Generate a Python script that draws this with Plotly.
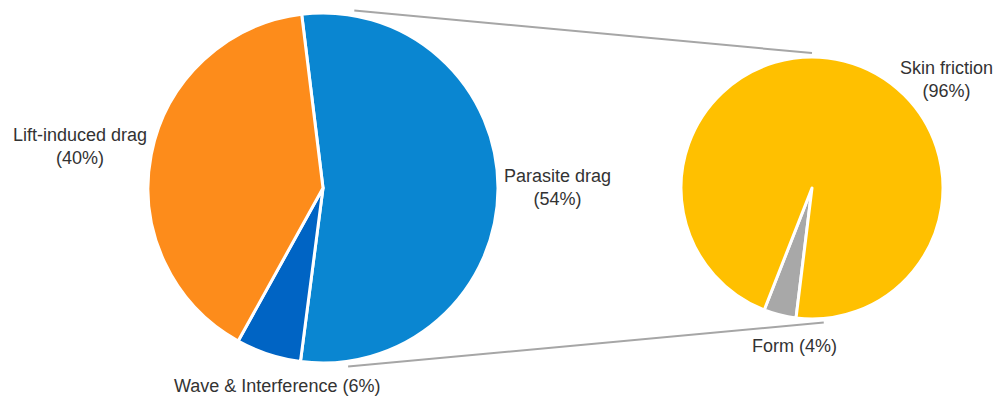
import math
import plotly.graph_objects as go

# ---- data ----
main_labels = ["Parasite drag", "Wave & Interference", "Lift-induced drag"]
main_values = [54, 6, 40]
main_colors = ["#0A86D1", "#0064C4", "#FD8C1B"]

sub_labels = ["Form", "Skin friction"]
sub_values = [4, 96]
sub_colors = ["#A8A8A8", "#FFC000"]

W, H = 996, 396

# pie geometry (pixels)
L_CX, L_CY, L_R = 323, 188, 175
R_CX, R_CY, R_R = 812, 188, 131


def dom(cx, cy, r):
    return dict(x=[(cx - r) / W, (cx + r) / W],
                y=[1 - (cy + r) / H, 1 - (cy - r) / H])


fig = go.Figure()
fig.add_trace(go.Pie(
    labels=main_labels, values=main_values, sort=False, direction="clockwise",
    rotation=-7, marker=dict(colors=main_colors, line=dict(color="white", width=3)),
    textinfo="none", hoverinfo="label+percent", domain=dom(L_CX, L_CY, L_R),
    showlegend=False))
fig.add_trace(go.Pie(
    labels=sub_labels, values=sub_values, sort=False, direction="clockwise",
    rotation=187, marker=dict(colors=sub_colors, line=dict(color="white", width=3)),
    textinfo="none", hoverinfo="label+percent", domain=dom(R_CX, R_CY, R_R),
    showlegend=False))


def pt(cx, cy, r, ang, k):
    a = math.radians(ang)
    return cx + r * k * math.sin(a), cy - r * k * math.cos(a)


# connector lines (angles clockwise from 12 o'clock)
connectors = [((10, 1.03), (0, 1.03)), ((172, 1.03), (175, 1.03))]
shapes = []
for (la, lk), (ra, rk) in connectors:
    x0, y0 = pt(L_CX, L_CY, L_R, la, lk)
    x1, y1 = pt(R_CX, R_CY, R_R, ra, rk)
    shapes.append(dict(type="line", xref="paper", yref="paper",
                       x0=x0 / W, y0=1 - y0 / H, x1=x1 / W, y1=1 - y1 / H,
                       line=dict(color="#A6A6A6", width=2)))

# labels
label_texts = [
    ("Lift-induced drag<br>(40%)", 80, 146),
    ("Parasite drag<br>(54%)", 557, 187),
    ("Wave & Interference (6%)", 277, 386),
    ("Skin friction<br>(96%)", 946, 80),
    ("Form (4%)", 794, 346),
]
annotations = []
for t, x, y in label_texts:
    annotations.append(dict(text=t, x=x / W, y=1 - y / H, xref="paper", yref="paper",
                            showarrow=False, xanchor="center", yanchor="middle",
                            align="center",
                            font=dict(family="Liberation Sans, Arial", size=18,
                                      color="#333333")))

fig.update_layout(width=W, height=H, margin=dict(l=0, r=0, t=0, b=0),
                  paper_bgcolor="white", plot_bgcolor="white",
                  shapes=shapes, annotations=annotations)
fig.write_html("out.html")
